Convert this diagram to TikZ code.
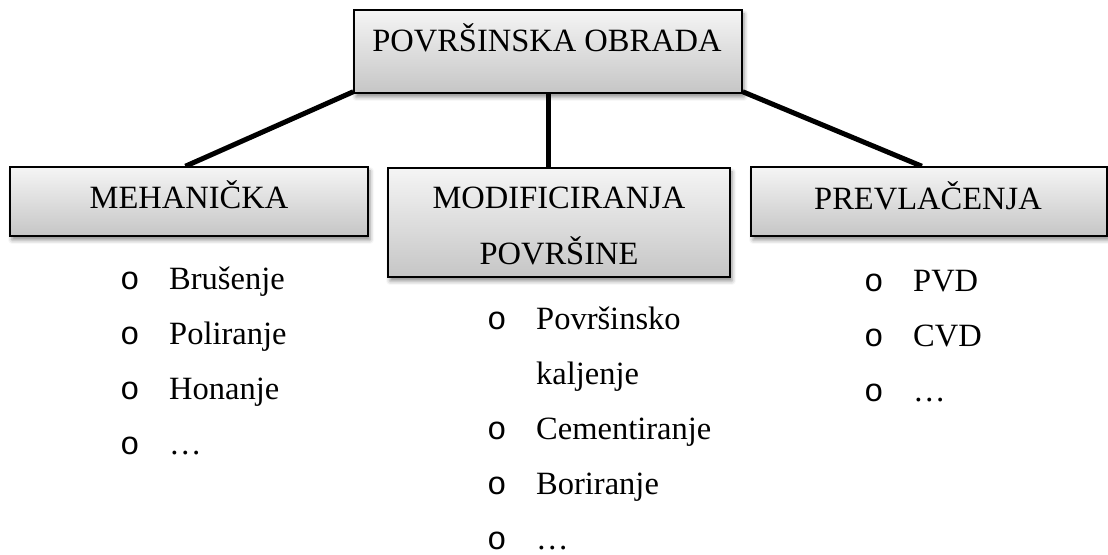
\documentclass[tikz,border=0pt]{standalone}
\usepackage{fontspec}
\setmainfont{Liberation Serif}
\newfontfamily\bulletfont{Liberation Mono}
\usetikzlibrary{calc,shadows.blur}
\pgfdeclarelayer{background}
\pgfsetlayers{background,main}
\begin{document}
\begin{tikzpicture}[x=1bp,y=1bp,
  catbox/.style={draw=black, line width=1.5bp, top color=gray!8, bottom color=gray!45,
    inner sep=0pt, blur shadow={shadow xshift=2bp, shadow yshift=-4bp, shadow blur radius=4bp, shadow opacity=45}},
  lbl/.style={anchor=base, inner sep=0pt, font=\fontsize{32.5bp}{39bp}\selectfont},
  itm/.style={anchor=base west, inner sep=0pt, font=\fontsize{32.5bp}{39bp}\selectfont},
  bul/.style={anchor=base west, inner sep=0pt, font=\bulletfont\fontsize{32.5bp}{39bp}\selectfont},
  conn/.style={line width=5bp, black}]
\useasboundingbox (0,0) rectangle (1108,555);
% boxes
\node[catbox, minimum width=388bp, minimum height=83bp] (top) at (548,503.5) {};
\node[lbl] (topl) at (547,503) {POVRŠINSKA OBRADA};
\node[catbox, minimum width=358bp, minimum height=69bp] (meh) at (189,353.5) {};
\node[lbl] (mehl) at (189,346) {MEHANIČKA};
\node[catbox, minimum width=342bp, minimum height=109bp] (mod) at (559,332.5) {};
\node[lbl] (modl1) at (559,346) {MODIFICIRANJA};
\node[lbl] (modl2) at (559,290) {POVRŠINE};
\node[catbox, minimum width=356bp, minimum height=69bp] (pre) at (929,353.5) {};
\node[lbl] (prel) at (928,345) {PREVLAČENJA};
% connectors
\coordinate (mehtop) at ($(meh.north west)!0.49!(meh.north east)$);
\coordinate (pretop) at ($(pre.north west)!0.48!(pre.north east)$);
\coordinate (topmid) at ($(top.south west)!0.5!(top.south east)$);
\coordinate (modtop) at (topmid |- mod.north);
\begin{pgfonlayer}{background}
\draw[conn] ($(top.south west)+(0,2)$) -- (mehtop);
\draw[conn] (topmid) -- (modtop);
\draw[conn] ($(top.south east)+(0,2)$) -- (pretop);
\end{pgfonlayer}
% left list
\node[bul] (b1) at (120,265) {o};
\node[itm] (i1) at (169,265) {Brušenje};
\node[bul] (b2) at (120,210) {o};
\node[itm] (i2) at (169,210) {Poliranje};
\node[bul] (b3) at (120,155) {o};
\node[itm] (i3) at (169,155) {Honanje};
\node[bul] (b4) at (120,100) {o};
\node[itm] (i4) at (169,100) {…};
% middle list
\node[bul] (m1) at (487,225) {o};
\node[itm] (j1) at (536,225) {Površinsko};
\node[itm] (j1b) at (536,170) {kaljenje};
\node[bul] (m2) at (487,115) {o};
\node[itm] (j2) at (536,115) {Cementiranje};
\node[bul] (m3) at (487,60) {o};
\node[itm] (j3) at (536,60) {Boriranje};
\node[bul] (m4) at (487,5) {o};
\node[itm] (j4) at (536,5) {…};
% right list
\node[bul] (r1) at (864,263) {o};
\node[itm] (k1) at (913,263) {PVD};
\node[bul] (r2) at (864,208) {o};
\node[itm] (k2) at (913,208) {CVD};
\node[bul] (r3) at (864,153) {o};
\node[itm] (k3) at (913,153) {…};
\end{tikzpicture}
\end{document}
